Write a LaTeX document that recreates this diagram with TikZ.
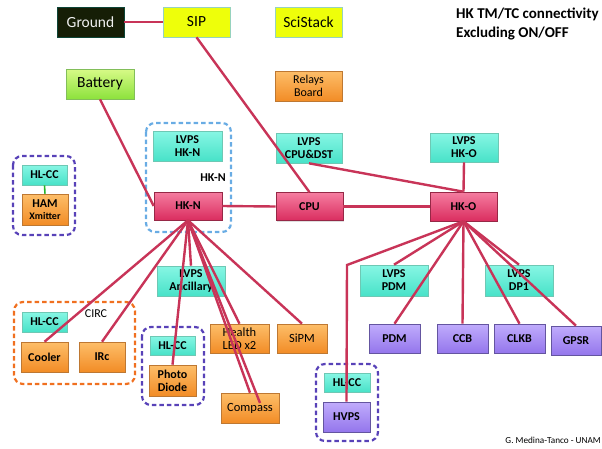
\documentclass[tikz,border=0pt]{standalone}
\usepackage{fontspec}
\setmainfont{Carlito}
\usetikzlibrary{shadows}

\definecolor{wire}{RGB}{200,52,88}
\definecolor{pinktop}{RGB}{245,125,160}
\definecolor{pinkbot}{RGB}{218,45,95}
\definecolor{pinkedge}{RGB}{150,40,70}
\definecolor{cyantop}{RGB}{135,246,228}
\definecolor{cyanbot}{RGB}{72,226,200}
\definecolor{cyanedge}{RGB}{110,200,180}
\definecolor{orgtop}{RGB}{253,190,105}
\definecolor{orgbot}{RGB}{242,140,38}
\definecolor{orgedge}{RGB}{190,120,50}
\definecolor{purtop}{RGB}{192,172,252}
\definecolor{purbot}{RGB}{148,118,236}
\definecolor{puredge}{RGB}{100,85,160}
\definecolor{yel}{RGB}{238,255,10}
\definecolor{yeledge}{RGB}{150,210,190}
\definecolor{grntop}{RGB}{215,250,135}
\definecolor{grnbot}{RGB}{140,226,60}
\definecolor{grnedge}{RGB}{130,190,90}
\definecolor{gnd}{RGB}{22,30,6}
\definecolor{dashblue}{RGB}{105,172,228}
\definecolor{dashpurple}{RGB}{88,66,184}
\definecolor{dashorange}{RGB}{240,112,32}
\definecolor{linkgreen}{RGB}{40,180,40}

\tikzset{
  x=1pt, y=-1pt,
  box/.style={rectangle, inner sep=0pt, align=center, line width=0.6pt,
    font=\fontsize{12}{13}\selectfont\bfseries,
    drop shadow={shadow xshift=1.2pt, shadow yshift=-1.2pt, opacity=0.25}},
  pinkbox/.style={box, draw=pinkedge, top color=pinktop, bottom color=pinkbot},
  cyanbox/.style={box, draw=cyanedge, top color=cyantop, bottom color=cyanbot},
  orgbox/.style={box, draw=orgedge, top color=orgtop, bottom color=orgbot},
  purbox/.style={box, draw=puredge, top color=purtop, bottom color=purbot},
  topbox/.style={box, font=\fontsize{15.5}{16.5}\selectfont},
  wired/.style={draw=wire, line width=2.4pt},
  group/.style={rounded corners=9pt, line width=2.2pt, dash pattern=on 4.5pt off 3pt},
  plain/.style={font=\fontsize{12}{13}\selectfont, inner sep=0pt}
}

\begin{document}
\begin{tikzpicture}
\useasboundingbox (0,0) rectangle (602,448);

% ---------- dashed groupings ----------
\draw[group, draw=dashblue]   (146,123) rectangle (231,232);
\draw[group, draw=dashpurple] (13,156)  rectangle (75,235);
\draw[group, draw=dashorange] (14,302)  rectangle (135,384);
\draw[group, draw=dashpurple] (142,327) rectangle (204,405);
\draw[group, draw=dashpurple] (316,364) rectangle (378,441);

% ---------- top row ----------
\node[topbox, draw=gnd!60!teal, fill=gnd, text=white!88!gray, minimum width=67, minimum height=30] (ground) at (90.5,22) {Ground};
\node[topbox, draw=yeledge, fill=yel, minimum width=67, minimum height=30] (sip) at (196.5,22) {SIP};
\node[topbox, draw=yeledge, fill=yel, minimum width=67, minimum height=30] (scistack) at (308.5,22) {SciStack};
\node[topbox, draw=grnedge, top color=grntop, bottom color=grnbot, minimum width=68, minimum height=30] (battery) at (100,84) {Battery};
\node[orgbox, font=\fontsize{12}{13}\selectfont, minimum width=67, minimum height=30] (relays) at (308.5,86) {Relays\\Board};

% ---------- housekeeping chain ----------
\node[cyanbox, minimum width=69, minimum height=30] (lvpshkn) at (187.5,146) {LVPS\\HK-N};
\node[pinkbox, minimum width=68, minimum height=28] (hkn) at (188,206) {HK-N};
\node[cyanbox, minimum width=66, minimum height=30] (lvpscpu) at (309,148) {LVPS\\CPU\&DST};
\node[pinkbox, minimum width=67, minimum height=28] (cpu) at (309.5,206.5) {CPU};
\node[cyanbox, minimum width=68, minimum height=29] (lvpshko) at (464,147.5) {LVPS\\HK-O};
\node[pinkbox, minimum width=67, minimum height=29] (hko) at (463.5,206.5) {HK-O};
\node[plain, font=\fontsize{12}{13}\selectfont\bfseries] (hknlabel) at (213,178) {HK-N};

% ---------- HAM transmitter ----------
\node[cyanbox, minimum width=45, minimum height=20] (hlcc1) at (44.5,175) {HL-CC};
\node[orgbox, minimum width=46, minimum height=31] (ham) at (45,209.5) {HAM\\[-1pt]{\fontsize{10}{10.5}\selectfont Xmitter}};
\draw[draw=linkgreen, line width=1.6pt] (hlcc1.south) -- (ham.north);

% ---------- CIRC ----------
\node[cyanbox, minimum width=45, minimum height=20] (hlcc2) at (44.5,322) {HL-CC};
\node[plain] (circ) at (96,314) {CIRC};
\node[orgbox, minimum width=47, minimum height=30] (cooler) at (44.5,357) {Cooler};
\node[orgbox, minimum width=46, minimum height=30] (irc) at (102,357) {IRc};

% ---------- HK-N periphery ----------
\node[cyanbox, minimum width=45, minimum height=19] (hlcc3) at (172.5,345.5) {HL-CC};
\node[orgbox, minimum width=47, minimum height=31] (pd) at (172.5,380.5) {Photo\\Diode};
\node[cyanbox, minimum width=68, minimum height=30] (lvpsanc) at (191,281) {LVPS\\Ancillary};
\node[orgbox, font=\fontsize{12.5}{13.5}\selectfont, minimum width=59, minimum height=29] (health) at (239.5,338.5) {Health\\LED x2};
\node[orgbox, font=\fontsize{12.5}{13.5}\selectfont, minimum width=50, minimum height=29] (sipm) at (302,338.5) {SiPM};
\node[orgbox, font=\fontsize{12.5}{13.5}\selectfont, minimum width=58, minimum height=30] (compass) at (250,408) {Compass};

% ---------- HK-O periphery ----------
\node[cyanbox, minimum width=68, minimum height=31] (lvpspdm) at (394,280.5) {LVPS\\PDM};
\node[cyanbox, minimum width=68, minimum height=31] (lvpsdp1) at (519,280.5) {LVPS\\DP1};
\node[purbox, minimum width=51, minimum height=29] (pdm) at (394.5,338.5) {PDM};
\node[purbox, minimum width=51, minimum height=29] (ccb) at (462.5,338.5) {CCB};
\node[purbox, minimum width=51, minimum height=29] (clkb) at (519.5,338.5) {CLKB};
\node[purbox, minimum width=50, minimum height=29] (gpsr) at (576,340.5) {GPSR};
\node[cyanbox, minimum width=46, minimum height=19] (hlcc4) at (347,382.5) {HL-CC};
\node[purbox, minimum width=47, minimum height=30] (hvps) at (346.5,417) {HVPS};

% ---------- texts ----------
\node[anchor=west, inner sep=0pt, align=left, font=\fontsize{15}{19}\selectfont\bfseries] (title) at (456,24) {HK TM/TC connectivity\\Excluding ON/OFF};
\node[anchor=east, inner sep=0pt, font=\fontsize{9.2}{10}\selectfont] (credit) at (601,440) {G. Medina-Tanco - UNAM};

% ---------- connections ----------
\coordinate (bend) at (347,265);
\coordinate (comp2) at (260,403);
\draw[wired] (ground.east) -- (sip.west);
\draw[wired] (sip.south) -- (cpu.north);
\draw[wired] (battery.south) -- (hkn.west);
\draw[wired] (hkn.east) -- (cpu.west);
\draw[wired] (cpu.east) -- (hko.west);
\draw[wired] (lvpscpu.south) -- (hko.north);
\draw[wired] (lvpshko.south) -- (hko.north);

\foreach \t in {cooler, irc, pd, lvpsanc, health, compass, sipm}
  \draw[wired] (hkn.south) -- (\t.north);
\draw[wired] (hkn.south) -- (comp2);

\foreach \t in {lvpspdm, pdm, ccb, clkb, lvpsdp1, gpsr}
  \draw[wired] (hko.south) -- (\t.north);
\draw[wired] (hko.south) -- (bend) -- (hvps.north);
\end{tikzpicture}
\end{document}
